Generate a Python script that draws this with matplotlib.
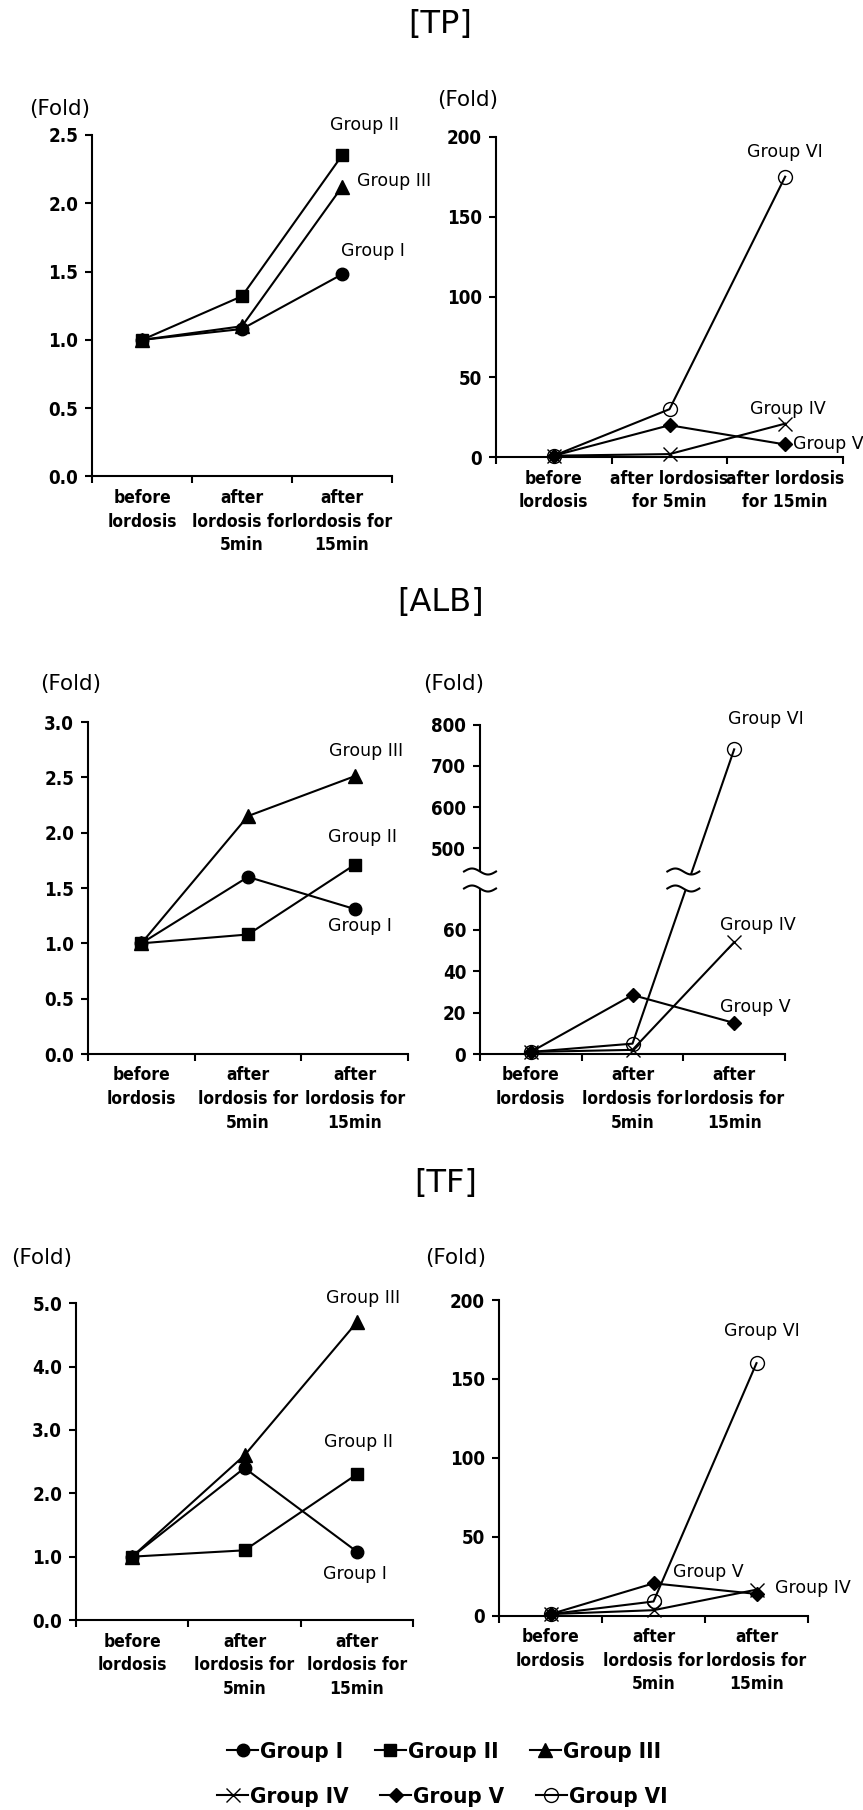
import numpy as np
import matplotlib
matplotlib.use("Agg")
import matplotlib.pyplot as plt
from matplotlib import font_manager as fm
from matplotlib.font_manager import FontProperties
from matplotlib.patches import Polygon

# ---- data (fold change vs. before lordosis) ----
tp_g1 = [1.0, 1.08, 1.48]
tp_g2 = [1.0, 1.32, 2.35]
tp_g3 = [1.0, 1.10, 2.12]
tp_g4 = [1.0, 2.0, 21.0]
tp_g5 = [1.0, 20.0, 8.0]
tp_g6 = [1.0, 30.0, 175.0]

alb_g1 = [1.0, 1.60, 1.31]
alb_g2 = [1.0, 1.08, 1.71]
alb_g3 = [1.0, 2.15, 2.51]
alb_g4 = [1.0, 2.0, 54.0]
alb_g5 = [1.0, 28.5, 15.0]
alb_g6 = [1.0, 5.0, 740.0]

tf_g1 = [1.0, 2.40, 1.08]
tf_g2 = [1.0, 1.10, 2.30]
tf_g3 = [1.0, 2.60, 4.70]
tf_g4 = [1.0, 3.5, 16.5]
tf_g5 = [1.0, 20.5, 13.8]
tf_g6 = [1.0, 9.0, 160.0]

groups = ['Group I', 'Group II', 'Group III', 'Group IV', 'Group V', 'Group VI']
xlab3 = ['before\nlordosis', 'after\nlordosis for\n5min', 'after\nlordosis for\n15min']
xlab2 = ['before\nlordosis', 'after lordosis\nfor 5min', 'after lordosis\nfor 15min']

W, H = 863, 1810
fig = plt.figure(figsize=(W / 100, H / 100), dpi=100)


# look for a narrow / condensed bold face for the tick labels
def find_narrow_bold():
    pref = ['liberationsansnarrow-bold.', 'notosans-condensedbold.', 'dejavusanscondensed-bold.',
            'robotocondensed-bold.', 'opensans-condensedbold.', 'opensans_condensed-bold.']
    files = [f.fname for f in fm.fontManager.ttflist]
    for p in pref:
        for fn in files:
            if fn.lower().split('/')[-1].startswith(p):
                return fn
    for fn in files:
        low = fn.lower().split('/')[-1]
        if ('narrow' in low or 'condensed' in low) and 'bold' in low and 'italic' not in low \
                and 'semi' not in low and 'extra' not in low:
            return fn
    return None


narrow = find_narrow_bold()
if narrow:
    tickfont = FontProperties(fname=narrow, size=13.5)
    xtickfont = FontProperties(fname=narrow, size=12.5)
    legfont = FontProperties(fname=narrow, size=16)
else:
    tickfont = FontProperties(family=['Liberation Sans', 'DejaVu Sans'], weight='bold', size=13.5)
    xtickfont = FontProperties(family=['Liberation Sans', 'DejaVu Sans'], weight='bold', size=11.5)
    legfont = FontProperties(family=['Liberation Sans', 'DejaVu Sans'], weight='bold', size=15)
LBL = 'DejaVu Sans'

styles = {
    0: dict(marker='o', ms=9, mfc='black', mec='black'),
    1: dict(marker='s', ms=9, mfc='black', mec='black'),
    2: dict(marker='^', ms=10, mfc='black', mec='black'),
    3: dict(marker='x', ms=10, mew=1.0, mec='black'),
    4: dict(marker='D', ms=7.5, mfc='black', mec='black'),
    5: dict(marker='o', ms=10, mew=1.0, mfc='none', mec='black'),
}


def add_ax(x0, x1, top, bottom):
    return fig.add_axes([x0 / W, 1 - bottom / H, (x1 - x0) / W, (bottom - top) / H])


def setup(ax, ylim, yticks, fmt, xlabels):
    ax.set_xlim(-0.5, 2.5)
    ax.set_ylim(*ylim)
    ax.set_xticks([-0.5, 0.5, 1.5, 2.5])
    ax.set_xticklabels([])
    ax.set_xticks([0, 1, 2], minor=True)
    ax.set_xticklabels(xlabels, minor=True, fontproperties=xtickfont, linespacing=1.4)
    ax.tick_params(axis='x', which='major', direction='out', length=5, width=1.5)
    ax.tick_params(axis='x', which='minor', length=0, pad=9)
    ax.set_yticks(yticks)
    ax.set_yticklabels([fmt.format(v) for v in yticks], fontproperties=tickfont)
    ax.tick_params(axis='y', direction='out', length=5, width=1.5, pad=5)
    for s in ['top', 'right']:
        ax.spines[s].set_visible(False)
    for s in ['left', 'bottom']:
        ax.spines[s].set_linewidth(1.5)


def draw(ax, series, idx):
    lines = []
    for i, ys in zip(idx, series):
        ln, = ax.plot([0, 1, 2], ys, color='black', lw=1.5, clip_on=False, zorder=3, **styles[i])
        lines.append(ln)
    return lines


def ftext(x, y, s, ha='center', **kw):
    fig.text(x / W, 1 - y / H, s, ha=ha, va='center', **kw)


# ---- titles ----
ftext(440, 24, '[TP]', family=LBL, fontsize=23)
ftext(441, 602, '[ALB]', family=LBL, fontsize=23)
ftext(446, 1183, '[TF]', family=LBL, fontsize=23)

# ---- TP ----
ax = add_ax(92, 392, 135, 476.5)
h1 = draw(ax, [tp_g1, tp_g2, tp_g3], [0, 1, 2])
setup(ax, (0, 2.5), [0, 0.5, 1.0, 1.5, 2.0, 2.5], '{:.1f}', xlab3)
ftext(60, 109, '(Fold)', family=LBL, fontsize=15.5)
ftext(364, 125, groups[1], family=LBL, fontsize=12.5)
ftext(357, 181, groups[2], ha='left', family=LBL, fontsize=12.5)
ftext(373, 251, groups[0], family=LBL, fontsize=12.5)

ax = add_ax(496, 843, 136.6, 457.3)
h2 = draw(ax, [tp_g4, tp_g5, tp_g6], [3, 4, 5])
setup(ax, (0, 200), [0, 50, 100, 150, 200], '{:.0f}', xlab2)
ftext(468, 100, '(Fold)', family=LBL, fontsize=15.5)
ftext(785, 152, groups[5], family=LBL, fontsize=12.5)
ftext(788, 409, groups[3], family=LBL, fontsize=12.5)
ftext(793, 444, groups[4], ha='left', family=LBL, fontsize=12.5)

# ---- ALB ----
ax = add_ax(88, 408, 722, 1054)
draw(ax, [alb_g1, alb_g2, alb_g3], [0, 1, 2])
setup(ax, (0, 3.0), [0, 0.5, 1.0, 1.5, 2.0, 2.5, 3.0], '{:.1f}', xlab3)
ftext(71, 684, '(Fold)', family=LBL, fontsize=15.5)
ftext(366, 751, groups[2], family=LBL, fontsize=12.5)
ftext(362, 837, groups[1], family=LBL, fontsize=12.5)
ftext(360, 926, groups[0], family=LBL, fontsize=12.5)

# broken y axis: 0-80 and 450-800 on different scales
BRK_IN = [-1000.0, 0.0, 80.0, 450.0, 800.0, 2000.0]
BRK_OUT = [-2070.0, 0.0, 165.6, 185.0, 329.4, 824.5]
ax = add_ax(480, 785, 724.6, 1054)
ax.set_yscale('function', functions=(lambda y: np.interp(y, BRK_IN, BRK_OUT),
                                      lambda v: np.interp(v, BRK_OUT, BRK_IN)))
draw(ax, [alb_g4, alb_g5, alb_g6], [3, 4, 5])
setup(ax, (0, 800), [0, 20, 40, 60, 500, 600, 700, 800], '{:.0f}', xlab3)
ax_h = 329.4
ax_w = 305.0
u = np.linspace(0, 1, 60)
for xc in [0.0, 2.0 / 3.0]:
    xs = xc + (u - 0.5) * 32 / ax_w
    lo = 165.5 / ax_h + 3.0 / ax_h * np.sin(2 * np.pi * u)
    hi = 182.5 / ax_h + 3.0 / ax_h * np.sin(2 * np.pi * u)
    poly = np.column_stack([np.r_[xs, xs[::-1]], np.r_[hi, lo[::-1]]])
    ax.add_patch(Polygon(poly, closed=True, facecolor='white', edgecolor='none',
                         transform=ax.transAxes, clip_on=False, zorder=4))
    ax.plot(xs, lo, color='black', lw=1.5, transform=ax.transAxes, clip_on=False, zorder=5)
    ax.plot(xs, hi, color='black', lw=1.5, transform=ax.transAxes, clip_on=False, zorder=5)
ax.set_ylim(0, 800)
ftext(454, 684, '(Fold)', family=LBL, fontsize=15.5)
ftext(766, 719, groups[5], family=LBL, fontsize=12.5)
ftext(758, 925, groups[3], family=LBL, fontsize=12.5)
ftext(755, 1007, groups[4], family=LBL, fontsize=12.5)

# ---- TF ----
ax = add_ax(76, 413, 1303.3, 1620)
draw(ax, [tf_g1, tf_g2, tf_g3], [0, 1, 2])
setup(ax, (0, 5.0), [0, 1.0, 2.0, 3.0, 4.0, 5.0], '{:.1f}', xlab3)
ftext(42, 1258, '(Fold)', family=LBL, fontsize=15.5)
ftext(363, 1298, groups[2], family=LBL, fontsize=12.5)
ftext(358, 1442, groups[1], family=LBL, fontsize=12.5)
ftext(355, 1574, groups[0], family=LBL, fontsize=12.5)

ax = add_ax(499, 808, 1300, 1615.7)
draw(ax, [tf_g4, tf_g5, tf_g6], [3, 4, 5])
setup(ax, (0, 200), [0, 50, 100, 150, 200], '{:.0f}', xlab3)
ftext(456, 1258, '(Fold)', family=LBL, fontsize=15.5)
ftext(762, 1331, groups[5], family=LBL, fontsize=12.5)
ftext(708, 1572, groups[4], family=LBL, fontsize=12.5)
ftext(813, 1588, groups[3], family=LBL, fontsize=12.5)

# ---- legend ----
legkw = dict(loc='center left', ncol=3, frameon=False, prop=legfont, handlelength=1.4,
             handletextpad=0.1, columnspacing=1.4, borderpad=0, borderaxespad=0)
fig.legend(h1, groups[:3], bbox_to_anchor=(227 / W, 1 - 1752 / H), **legkw)
fig.legend(h2, groups[3:], bbox_to_anchor=(217 / W, 1 - 1797 / H), **legkw)

fig.savefig('out.png', dpi=100, facecolor='white')
